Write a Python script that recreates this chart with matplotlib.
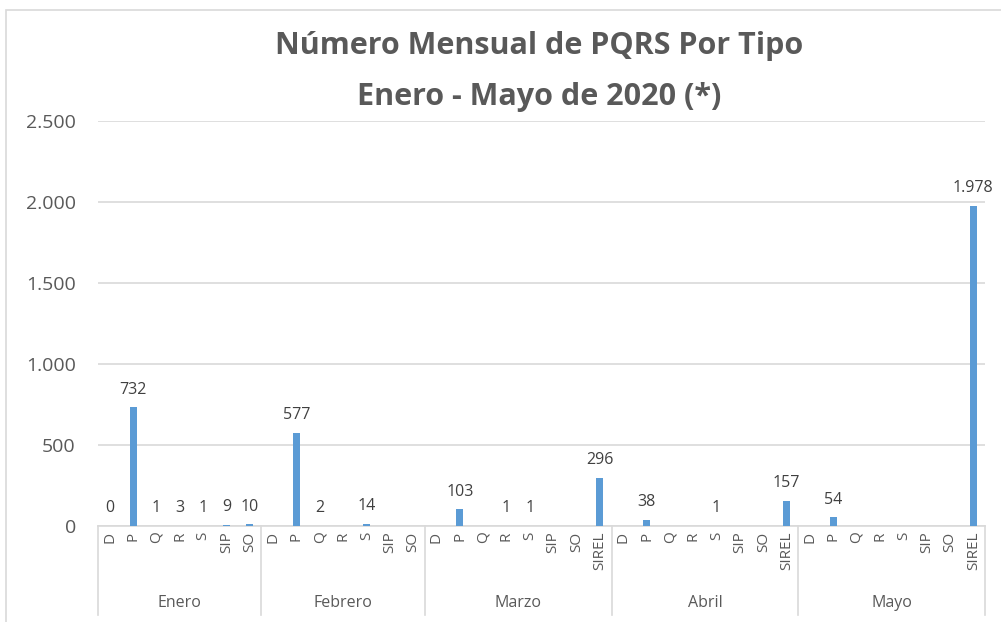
import matplotlib.pyplot as plt
import matplotlib.transforms as mtransforms
from matplotlib.patches import Rectangle
import numpy as np

plt.rcParams['font.family'] = ['Open Sans', 'DejaVu Sans']

# categories per month
months = ['Enero', 'Febrero', 'Marzo', 'Abril', 'Mayo']
types_enero = ['D', 'P', 'Q', 'R', 'S', 'SIP', 'SO']
types_febrero = ['D', 'P', 'Q', 'R', 'S', 'SIP', 'SO']
types_marzo = ['D', 'P', 'Q', 'R', 'S', 'SIP', 'SO', 'SIREL']
types_abril = ['D', 'P', 'Q', 'R', 'S', 'SIP', 'SO', 'SIREL']
types_mayo = ['D', 'P', 'Q', 'R', 'S', 'SIP', 'SO', 'SIREL']

# values (None = empty cell, no label)
vals_enero = [0, 732, 1, 3, 1, 9, 10]
vals_febrero = [None, 577, 2, None, 14, None, None]
vals_marzo = [None, 103, None, 1, 1, None, None, 296]
vals_abril = [None, 38, None, None, 1, None, None, 157]
vals_mayo = [None, 54, None, None, None, None, None, 1978]

yticks = [0, 500, 1000, 1500, 2000, 2500]
ytick_labels = ['0', '500', '1.000', '1.500', '2.000', '2.500']

groups = [types_enero, types_febrero, types_marzo, types_abril, types_mayo]
group_vals = [vals_enero, vals_febrero, vals_marzo, vals_abril, vals_mayo]

labels = [t for g in groups for t in g]
values = [v for g in group_vals for v in g]
x = np.arange(len(labels))

grey = '#595959'
fig = plt.figure(figsize=(10.01, 6.22), dpi=100)
ax = fig.add_axes([98 / 1001, (622 - 526) / 622, (985 - 98) / 1001, 405 / 622])

# outer chart border
fig.patches.append(Rectangle((6 / 1001, -0.01), 1.2, (622 - 10) / 622 + 0.01,
                             transform=fig.transFigure, fill=False,
                             edgecolor='#d9d9d9', linewidth=1.2))

h = [0 if v is None else v for v in values]
ax.bar(x, h, width=0.3, color='#5b9bd5', zorder=3)
for xi, v in zip(x, values):
    if v is None:
        continue
    txt = f'{v:,}'.replace(',', '.')
    ax.annotate(txt, (xi, v), xytext=(0, 7), textcoords='offset points',
                ha='center', va='bottom', fontsize=11.5, color='#404040')

ax.set_xlim(-0.5, len(labels) - 0.5)
ax.set_ylim(0, 2500)
ax.set_yticks(yticks)
ax.set_yticklabels(ytick_labels, fontsize=14, color=grey)
ax.yaxis.grid(True, color='#d9d9d9', linewidth=1.2, zorder=0)
ax.tick_params(axis='y', length=0, pad=16)

ax.set_xticks(x)
ax.set_xticklabels(labels, rotation=90, fontsize=11, color=grey)
ax.tick_params(axis='x', length=0, pad=4)

for s in ['top', 'right', 'left']:
    ax.spines[s].set_visible(False)
ax.spines['bottom'].set_color('#d9d9d9')
ax.spines['bottom'].set_linewidth(1.2)

# group separators and month labels
trans = mtransforms.blended_transform_factory(ax.transData, ax.transAxes)
bounds = np.cumsum([0] + [len(g) for g in groups]) - 0.5
for b in bounds:
    ax.plot([b, b], [0, -89 / 405], transform=trans, color='#d9d9d9',
            linewidth=1.2, clip_on=False)
for i, m in enumerate(months):
    c = (bounds[i] + bounds[i + 1]) / 2
    ax.text(c, -77 / 405, m, transform=trans, ha='center', va='center',
            fontsize=11.5, color=grey)

fig.text(0.539, 1 - 46 / 622, 'Número Mensual de PQRS Por Tipo', ha='center',
         va='center', fontsize=22, fontweight='bold', color=grey)
fig.text(0.539, 1 - 97 / 622, 'Enero - Mayo de 2020 (*)', ha='center',
         va='center', fontsize=22, fontweight='bold', color=grey)

fig.savefig('out.png', dpi=100)
